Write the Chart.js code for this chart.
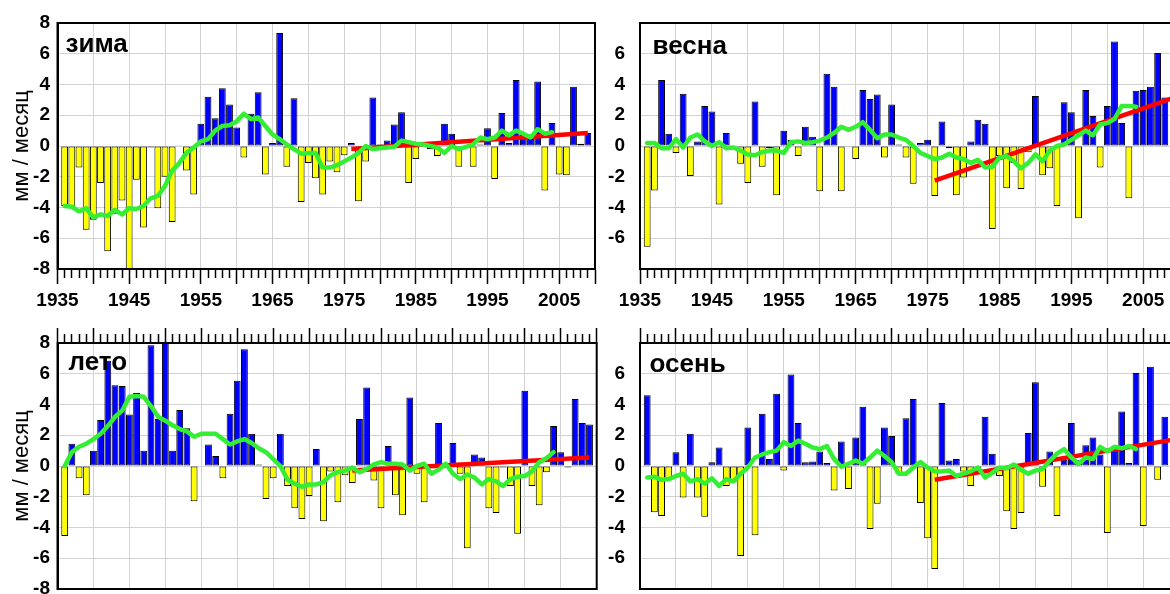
<!DOCTYPE html>
<html><head><meta charset="utf-8">
<script src="https://cdn.jsdelivr.net/npm/chart.js@4.4.0/dist/chart.umd.min.js"></script>
<style>
html,body{margin:0;padding:0;background:#fff;overflow:hidden;width:1170px;height:594px;position:relative;}
.p{position:absolute;}
canvas{display:block;}
</style></head><body>
<div class="p" style="left:0;top:0;width:600px;height:320px"><canvas id="c1" width="600" height="320"></canvas></div>
<div class="p" style="left:600px;top:0;width:600px;height:320px"><canvas id="c2" width="600" height="320"></canvas></div>
<div class="p" style="left:0;top:320px;width:600px;height:300px"><canvas id="c3" width="600" height="300"></canvas></div>
<div class="p" style="left:600px;top:320px;width:600px;height:300px"><canvas id="c4" width="600" height="300"></canvas></div>
<script>
// ---------- DATA ----------
const years = [1936,1937,1938,1939,1940,1941,1942,1943,1944,1945,1946,1947,1948,1949,1950,
1951,1952,1953,1954,1955,1956,1957,1958,1959,1960,1961,1962,1963,1964,1965,1966,1967,1968,1969,1970,
1971,1972,1973,1974,1975,1976,1977,1978,1979,1980,1981,1982,1983,1984,1985,1986,1987,1988,1989,1990,
1991,1992,1993,1994,1995,1996,1997,1998,1999,2000,2001,2002,2003,2004,2005,2006,2007,2008,2009];

const seasonNames = ['зима','весна','лето','осень'];
const yTitle = 'мм / месяц';
const yTicks = [-8,-6,-4,-2,0,2,4,6,8];
const xTickLabels = [1935,1945,1955,1965,1975,1985,1995,2005];

const winterBars = [-3.9,-3.95,-1.4,-5.45,-4.8,-2.4,-6.85,-4.4,-3.55,-9.5,-2.2,-5.3,-0.1,-4.05,-2.0,
-4.95,0.05,-1.6,-3.15,1.45,3.2,1.8,3.75,2.7,1.2,-0.75,2.1,3.5,-1.85,0.2,7.35,-1.35,3.1,-3.65,-1.1,
-2.1,-3.15,-1.0,-1.7,-0.6,0.2,-3.6,-1.0,3.15,0.1,0.35,1.4,2.2,-2.4,-0.85,-0.05,-0.2,-0.65,1.45,0.8,
-1.35,0.05,-1.35,0.1,1.15,-2.15,2.15,0.2,4.3,0.75,0.45,4.2,-2.9,1.5,-1.85,-1.9,3.85,0.15,0.85];
const winterSmooth = [-3.9,-3.95,-4.25,-4.05,-4.65,-4.45,-4.55,-4.15,-4.45,-4.05,-4.1,-3.9,-3.4,-3.25,-2.6,
-1.6,-1.1,-0.45,-0.1,0.3,0.45,1.0,1.3,1.35,1.6,2.1,1.75,1.85,1.3,0.75,0.45,0.1,-0.2,-0.5,-0.45,
-0.45,-1.4,-1.4,-1.25,-1.0,-0.75,-0.45,0.0,-0.2,-0.15,-0.1,-0.05,0.35,0.25,0.15,0.1,0.0,-0.1,-0.45,0.0,
-0.2,-0.05,0.1,0.55,0.45,0.55,1.0,0.7,1.0,0.8,0.55,1.1,0.8,0.9];
const winterTrendYears = [1976, 2009];
const winterTrend = [-0.2, 0.85];

const springBars = [-6.55,-2.9,4.3,0.8,-0.45,3.4,-1.95,0.3,2.6,2.25,-3.8,0.85,0.05,-1.15,-2.4,
2.9,-1.35,-0.15,-3.2,1.0,0.4,-0.65,1.25,0.6,-2.95,4.7,3.85,-2.95,-0.05,-0.85,3.65,3.05,3.35,-0.75,2.7,
0.1,-0.75,-2.45,0.2,0.4,-3.25,1.6,-0.15,-3.2,-2.05,0.3,1.7,1.45,-5.4,-0.65,-2.75,-1.1,-2.8,-0.4,3.25,
-1.9,-1.45,-3.9,2.85,2.2,-4.7,3.65,1.95,-1.4,2.6,6.8,1.5,-3.4,3.6,3.65,3.85,6.05,3.15,null];
const springSmooth = [0.2,0.2,-0.15,-0.15,0.45,-0.1,0.55,0.75,0.3,0.0,0.25,-0.15,-0.1,-0.3,-0.55,
-0.6,-0.4,-0.3,-0.3,-0.45,0.25,0.3,0.2,0.25,0.35,0.55,0.85,1.25,1.05,1.25,1.55,1.05,0.5,0.75,0.75,
0.55,0.4,0.0,-0.45,-0.65,-0.85,-0.75,-0.5,-0.75,-0.85,-1.1,-0.9,-1.4,-1.35,-0.75,-0.65,-1.0,-1.45,-1.1,-0.55,
-1.0,-0.3,0.0,0.1,0.4,0.7,1.0,0.7,1.4,1.5,1.75,2.6,2.6,2.55];
const springTrendYears = [1976, 2009];
const springTrend = [-2.25, 3.1];

const summerBars = [-4.55,1.45,-0.8,-1.9,1.0,3.0,6.85,5.25,5.2,3.35,4.75,1.0,7.85,3.05,8.1,
1.0,3.65,2.45,-2.3,0.0,1.4,0.65,-0.8,3.4,5.55,7.6,2.1,0.1,-2.15,-0.8,2.1,-1.3,-2.75,-3.45,-1.95,
1.1,-3.6,-0.35,-2.35,-0.6,-1.1,3.05,5.1,-0.95,-2.75,1.3,-1.9,-3.2,4.45,-0.5,-2.35,-0.1,2.8,0.0,1.5,
-0.5,-5.35,0.75,0.55,-2.75,-3.05,-0.1,-1.3,-4.4,4.9,-1.3,-2.55,-0.4,2.6,0.9,-0.1,4.35,2.8,2.7];
const summerSmooth = [0.0,0.9,1.25,1.45,1.75,2.1,2.6,3.2,3.6,4.5,4.55,4.5,3.9,3.2,2.95,
2.65,2.4,2.25,1.9,2.1,2.1,2.1,1.75,1.4,1.6,1.75,1.5,1.15,0.9,0.45,0.0,-0.9,-1.15,-1.35,-1.2,
-1.2,-1.05,-0.6,-0.4,-0.3,-0.1,-0.4,-0.2,0.1,0.25,0.15,0.15,0.1,-0.3,0.0,0.15,-0.5,-0.25,0.15,-0.5,
-0.85,-0.55,-0.75,-1.2,-0.85,-1.0,-1.3,-0.85,-0.7,-0.65,-0.35,0.25,0.5,0.9];
const summerTrendYears = [1976, 2009];
const summerTrend = [-0.3, 0.55];

const autumnBars = [4.6,-3.0,-3.25,-0.9,0.9,-2.05,2.1,-2.05,-3.3,0.25,1.2,-1.3,-1.0,-5.85,2.5,
-4.5,3.4,0.45,4.7,-0.3,5.95,2.8,0.25,0.3,0.95,0.2,-1.6,1.6,-1.5,1.85,3.85,-4.1,-2.45,2.5,1.95,
-0.5,3.1,4.35,-2.4,-4.7,-6.7,4.1,0.35,0.45,-0.35,-1.3,-0.2,3.2,0.8,-0.65,-2.95,-4.1,-3.05,2.15,5.45,
-1.35,0.95,-3.25,0.4,2.8,0.4,1.35,1.85,0.75,-4.35,1.0,3.55,0.2,6.05,-3.9,6.45,-0.9,3.2,null];
const autumnSmooth = [-0.75,-0.7,-0.9,-0.85,-0.65,-0.5,-1.0,-0.85,-1.15,-0.8,-1.3,-0.85,-1.0,-0.5,-0.1,
0.55,0.75,0.9,1.0,1.55,1.3,1.65,1.45,1.2,1.1,1.3,0.45,-0.05,0.15,0.35,0.15,0.55,1.0,0.65,0.25,
-0.5,-0.5,-0.1,0.25,-0.1,-0.35,-0.35,-0.3,-0.65,-0.5,-0.35,-0.1,-0.75,-0.45,-0.1,-0.15,0.1,-0.25,-0.5,-0.3,
-0.2,0.35,0.8,1.1,0.55,0.15,0.55,0.45,1.25,0.95,1.25,1.15,1.3,1.1];
const autumnTrendYears = [1976, 2009];
const autumnTrend = [-0.9, 1.7];

// ---------- STYLE ----------
const FONT = "'Liberation Sans', Arial, sans-serif";
const BLUE = '#0000ff', YELLOW = '#ffff00', GREEN = '#33ee33', RED = '#ff0000', GRID = '#d2d2d2';

const framePlugin = {
  id: 'frame',
  afterDatasetsDraw(chart) {
    const {ctx, chartArea: a} = chart;
    ctx.save(); ctx.strokeStyle = '#000'; ctx.lineWidth = 2;
    ctx.strokeRect(a.left, a.top, a.right - a.left, a.bottom - a.top);
    ctx.restore();
  }
};
const labelPlugin = {
  id: 'panelLabel',
  afterDraw(chart, args, o) {
    const {ctx, chartArea: a} = chart;
    ctx.save();
    ctx.font = 'bold 26px ' + FONT; ctx.fillStyle = '#000';
    ctx.textAlign = 'left'; ctx.textBaseline = 'alphabetic';
    ctx.fillText(o.text, a.left + o.dx, a.top + o.dy);
    ctx.restore();
  }
};

function makeChart(id, cfg) {
  const bars = years.map((yr, i) => ({x: yr, y: cfg.bars[i]}));
  const smooth = cfg.smooth.map((v, i) => ({x: years[i], y: v}));
  const trend = cfg.trendYears.map((yr, i) => ({x: yr, y: cfg.trend[i]}));
  const isTop = cfg.row === 0;
  const xAxis = {
    type: 'linear', position: isTop ? 'bottom' : 'top', min: 1935, max: 2010,
    offset: false,
    afterFit: s => { s.height = isTop ? 45 : 16; },
    grid: {
      offset: false, drawOnChartArea: true, lineWidth: 1,
      color: c => (c.tick && c.tick.value % 5 === 0) ? GRID : 'rgba(0,0,0,0)',
      tickLength: 15, tickColor: '#000', tickWidth: 1.5,
      tickBorderDash: c => (c.tick && c.tick.value % 5 === 0) ? [] : (isTop ? [8, 100] : [0, 6, 8, 100])
    },
    border: {color: '#000', width: 2},
    ticks: {
      display: isTop, stepSize: 1, autoSkip: false, maxRotation: 0, minRotation: 0, padding: 5,
      color: '#000', font: {family: FONT, size: 19, weight: 'bold'},
      callback: v => xTickLabels.includes(v) ? String(v) : ''
    }
  };
  const yAxis = {
    min: yTicks[0], max: yTicks[yTicks.length - 1],
    afterFit: s => { s.width = cfg.left ? 57.5 : 40; s.paddingTop = 0; s.paddingBottom = 0; },
    grid: {color: GRID, lineWidth: 1, drawTicks: false},
    border: {color: '#000', width: 2},
    ticks: {
      stepSize: 2, padding: cfg.left ? 7.5 : 15, color: '#000',
      font: {family: FONT, size: 19, weight: 'bold'},
      callback: v => (!cfg.left && Math.abs(v) === 8) ? '' : String(v)
    },
    title: {display: cfg.left, text: yTitle, color: '#000', font: {family: FONT, size: 22}, padding: {top: 9, bottom: 0}}
  };
  const pad = isTop ? {left: 0, right: cfg.left ? 3.3 : 20.8, top: 23, bottom: 6}
                    : {left: 0, right: cfg.left ? 3.3 : 20.8, top: 7, bottom: 31};
  return new Chart(document.getElementById(id), {
    type: 'bar',
    data: {datasets: [
      {type: 'line', data: smooth, borderColor: GREEN, borderWidth: 4.5, pointRadius: 0, tension: 0,
       fill: false, order: 0, borderJoinStyle: 'round', borderCapStyle: 'round'},
      {type: 'line', data: trend, borderColor: RED, borderWidth: 4.5, pointRadius: 0, tension: 0,
       fill: false, order: 1, borderCapStyle: 'butt'},
      {type: 'bar', data: bars, order: 2, borderWidth: 1, borderColor: '#000', borderSkipped: false,
       barPercentage: 0.95, categoryPercentage: 1.0,
       backgroundColor: c => (c.raw && c.raw.y >= 0) ? BLUE : YELLOW}
    ]},
    options: {
      responsive: false, animation: false, devicePixelRatio: 1,
      layout: {padding: pad},
      plugins: {legend: {display: false}, tooltip: {enabled: false},
        panelLabel: {text: cfg.name, dx: cfg.dx, dy: cfg.dy}},
      scales: {x: xAxis, y: yAxis}
    },
    plugins: [framePlugin, labelPlugin]
  });
}

makeChart('c1', {row: 0, left: true, name: seasonNames[0], dx: 8, dy: 29,
  bars: winterBars, smooth: winterSmooth, trendYears: winterTrendYears, trend: winterTrend});
makeChart('c2', {row: 0, left: false, name: seasonNames[1], dx: 12.5, dy: 30.5,
  bars: springBars, smooth: springSmooth, trendYears: springTrendYears, trend: springTrend});
makeChart('c3', {row: 1, left: true, name: seasonNames[2], dx: 11, dy: 27,
  bars: summerBars, smooth: summerSmooth, trendYears: summerTrendYears, trend: summerTrend});
makeChart('c4', {row: 1, left: false, name: seasonNames[3], dx: 9.5, dy: 28.5,
  bars: autumnBars, smooth: autumnSmooth, trendYears: autumnTrendYears, trend: autumnTrend});
</script>
</body></html>
